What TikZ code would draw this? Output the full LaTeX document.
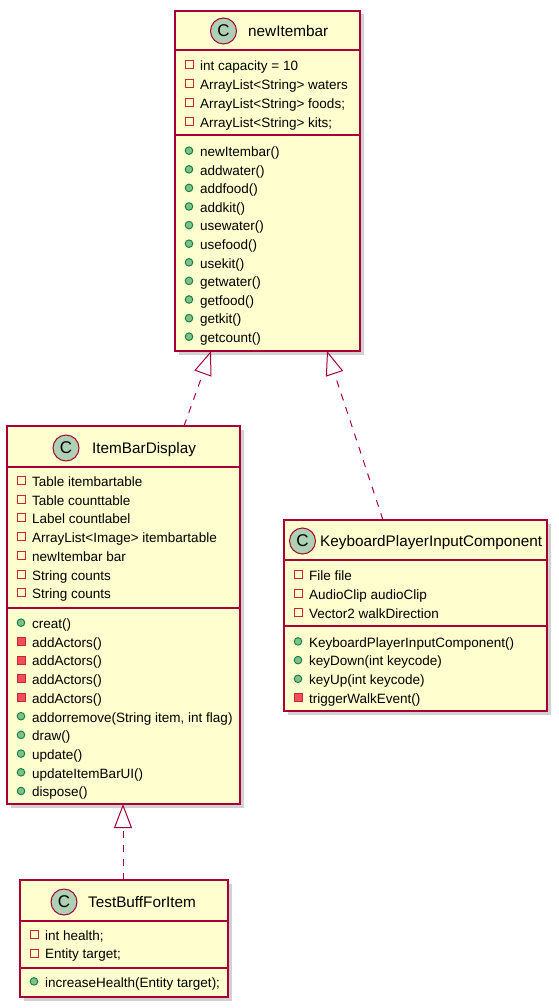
\documentclass[tikz,border=0pt]{standalone}
\usepackage{fontspec}
\setmainfont{Liberation Sans}
\usetikzlibrary{arrows.meta,shadows}
\definecolor{umlborder}{HTML}{A80036}
\definecolor{umlfill}{HTML}{FEFECE}
\definecolor{umlcirc}{HTML}{ADD1B2}
\definecolor{privline}{HTML}{C82930}
\definecolor{privfill}{HTML}{F24D5C}
\definecolor{publine}{HTML}{038048}
\definecolor{pubfill}{HTML}{84BE84}
\tikzset{
  cls/.style={draw=umlborder, line width=1.3pt, fill=umlfill, anchor=north west, inner sep=0pt, outer sep=0pt,
    drop shadow={shadow xshift=3.5pt, shadow yshift=-3.5pt, opacity=0.3, fill=black!60}},
  sepline/.style={draw=umlborder, line width=1.3pt},
  member/.style={anchor=base west, inner sep=0pt, font=\fontsize{13.5}{16}\selectfont},
  titletext/.style={anchor=base west, inner sep=0pt, font=\fontsize{15.3}{18}\selectfont},
  cicon/.style={circle, draw=umlborder, line width=1pt, fill=umlcirc, minimum size=26pt, inner sep=0pt, font=\fontsize{17}{17}\selectfont},
  fldicon/.style={draw=privline, line width=1pt, fill=none},
  pmicon/.style={draw=privline, fill=privfill, line width=0.9pt},
  pubicon/.style={draw=publine, fill=pubfill, line width=0.9pt},
  ext/.style={draw=umlborder, line width=1pt, dash pattern=on 7pt off 7pt, -{Triangle[length=24pt,width=18pt,fill=white]}}
}
\newcommand\ufld[4]{\draw[fldicon] (#1+10,#2-5.3) rectangle (#1+18,#2+2.7); \node[member] (#3) at (#1+25,#2+4.5) {#4};}
\newcommand\umpub[4]{\draw[pubicon] (#1+14,#2-1.3) circle (3.8pt); \node[member] (#3) at (#1+25,#2+4.5) {#4};}
\newcommand\umprv[4]{\draw[pmicon] (#1+10,#2-5.3) rectangle (#1+18,#2+2.7); \node[member] (#3) at (#1+25,#2+4.5) {#4};}
\begin{document}
\begin{tikzpicture}[x=1pt,y=-1pt]
\useasboundingbox (0,0) rectangle (558,1008);

% ---------- newItembar ----------
\node[cls, minimum width=185pt, minimum height=340pt] (nib) at (175,11) {};
\draw[sepline] (175,50) -- (360,50);
\draw[sepline] (175,135) -- (360,135);
\node[cicon] (nibc) at (223.5,31) {C};
\node[titletext] (nibt) at (248,36.5) {newItembar};
\ufld{175}{66}{nibf1}{int capacity = 10}
\ufld{175}{85}{nibf2}{ArrayList<String> waters}
\ufld{175}{104}{nibf3}{ArrayList<String> foods;}
\ufld{175}{123}{nibf4}{ArrayList<String> kits;}
\umpub{175}{152}{nibm1}{newItembar()}
\umpub{175}{170.6}{nibm2}{addwater()}
\umpub{175}{189.2}{nibm3}{addfood()}
\umpub{175}{207.8}{nibm4}{addkit()}
\umpub{175}{226.4}{nibm5}{usewater()}
\umpub{175}{245}{nibm6}{usefood()}
\umpub{175}{263.6}{nibm7}{usekit()}
\umpub{175}{282.2}{nibm8}{getwater()}
\umpub{175}{300.8}{nibm9}{getfood()}
\umpub{175}{319.4}{nibm10}{getkit()}
\umpub{175}{338}{nibm11}{getcount()}

% ---------- ItemBarDisplay ----------
\node[cls, minimum width=233pt, minimum height=378pt] (ibd) at (7,426) {};
\draw[sepline] (7,467) -- (240,467);
\draw[sepline] (7,608) -- (240,608);
\node[cicon] (ibdc) at (66,448) {C};
\node[titletext] (ibdt) at (92,453.5) {ItemBarDisplay};
\ufld{7}{481.7}{ibdf1}{Table itembartable}
\ufld{7}{500.5}{ibdf2}{Table counttable}
\ufld{7}{519.2}{ibdf3}{Label countlabel}
\ufld{7}{538}{ibdf4}{ArrayList<Image> itembartable}
\ufld{7}{556.7}{ibdf5}{newItembar bar}
\ufld{7}{575.5}{ibdf6}{String counts}
\ufld{7}{594.2}{ibdf7}{String counts}
\umpub{7}{624}{ibdm1}{creat()}
\umprv{7}{642.7}{ibdm2}{addActors()}
\umprv{7}{661.4}{ibdm3}{addActors()}
\umprv{7}{680.1}{ibdm4}{addActors()}
\umprv{7}{698.8}{ibdm5}{addActors()}
\umpub{7}{717.5}{ibdm6}{addorremove(String item, int flag)}
\umpub{7}{736.2}{ibdm7}{draw()}
\umpub{7}{754.9}{ibdm8}{update()}
\umpub{7}{773.6}{ibdm9}{updateItemBarUI()}
\umpub{7}{792.3}{ibdm10}{dispose()}

% ---------- KeyboardPlayerInputComponent ----------
\node[cls, minimum width=263pt, minimum height=191pt] (kpc) at (284,520) {};
\draw[sepline] (284,560) -- (547,560);
\draw[sepline] (284,626) -- (547,626);
\node[cicon] (kpcc) at (302.5,541) {C};
\node[titletext] (kpct) at (320,546.5) {KeyboardPlayerInputComponent};
\ufld{284}{576}{kpcf1}{File file}
\ufld{284}{595}{kpcf2}{AudioClip audioClip}
\ufld{284}{614}{kpcf3}{Vector2 walkDirection}
\umpub{284}{642.7}{kpcm1}{KeyboardPlayerInputComponent()}
\umpub{284}{661.4}{kpcm2}{keyDown(int keycode)}
\umpub{284}{680.1}{kpcm3}{keyUp(int keycode)}
\umprv{284}{698.8}{kpcm4}{triggerWalkEvent()}

% ---------- TestBuffForItem ----------
\node[cls, minimum width=208pt, minimum height=117pt] (tbf) at (20,880) {};
\draw[sepline] (20,921) -- (228,921);
\draw[sepline] (20,968) -- (228,968);
\node[cicon] (tbfc) at (64,902) {C};
\node[titletext] (tbft) at (88,907.5) {TestBuffForItem};
\ufld{20}{935.7}{tbff1}{int health;}
\ufld{20}{954.3}{tbff2}{Entity target;}
\umpub{20}{982.7}{tbfm1}{increaseHealth(Entity target);}

% ---------- realizations ----------
\draw[ext] ([xshift=177pt]ibd.north west) -- ([xshift=36pt]nib.south west);
\draw[ext] ([xshift=99pt]kpc.north west) -- ([xshift=152pt]nib.south west);
\draw[ext] ([xshift=103pt]tbf.north west) -- ([xshift=116pt]ibd.south west);
\end{tikzpicture}
\end{document}
